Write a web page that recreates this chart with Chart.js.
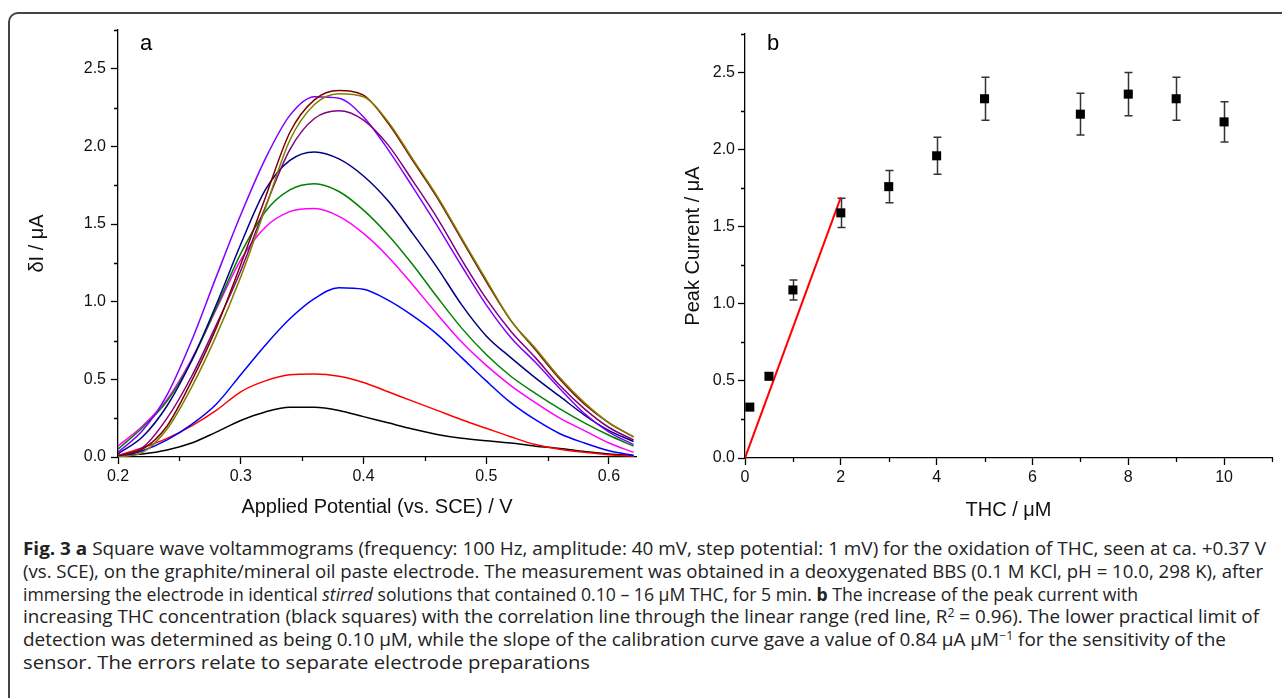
<!DOCTYPE html>
<html>
<head>
<meta charset="utf-8">
<script src="https://cdn.jsdelivr.net/npm/chart.js@4.4.1/dist/chart.umd.min.js"></script>
<style>
  body { margin: 0; width: 1282px; height: 698px; overflow: hidden; background: #fff; position: relative; }
  #frame { position: absolute; left: 8px; top: 12px; width: 1400px; height: 800px; border: 2px solid #444; border-radius: 10px; }
  canvas { position: absolute; top: 0; }
  .panel { position: absolute; top: 30px; font: 22px "Liberation Sans", Arial, sans-serif; line-height: 26px; color: #000; }
  .cap { position: absolute; left: 23px; height: 23px; line-height: 23px; white-space: nowrap; font: 18px "Liberation Sans Narrow", "Open Sans", sans-serif; color: #222; }
  .cap span { display: inline-block; transform-origin: 0 50%; }
  .cap sup { font-size: 0.65em; line-height: 0; vertical-align: 0.5em; }
</style>
</head>
<body>
<div id="frame"></div>
<canvas id="chartA" width="640" height="530" style="left:0"></canvas>
<canvas id="chartB" width="642" height="530" style="left:640px"></canvas>
<div class="panel" style="left:140px">a</div>
<div class="panel" style="left:767px">b</div>

<div class="cap" style="top:536px"><span><b>Fig. 3 a</b> Square wave voltammograms (frequency: 100 Hz, amplitude: 40 mV, step potential: 1 mV) for the oxidation of THC, seen at ca. +0.37 V</span></div>
<div class="cap" style="top:559px"><span>(vs. SCE), on the graphite/mineral oil paste electrode. The measurement was obtained in a deoxygenated BBS (0.1 M KCl, pH = 10.0, 298 K), after</span></div>
<div class="cap" style="top:582px"><span>immersing the electrode in identical <i>stirred</i> solutions that contained 0.10 – 16 μM THC, for 5 min. <b>b</b> The increase of the peak current with</span></div>
<div class="cap" style="top:604px"><span>increasing THC concentration (black squares) with the correlation line through the linear range (red line, R<sup>2</sup> = 0.96). The lower practical limit of</span></div>
<div class="cap" style="top:627px"><span>detection was determined as being 0.10 μM, while the slope of the calibration curve gave a value of 0.84 μA μM<sup>−1</sup> for the sensitivity of the</span></div>
<div class="cap" style="top:650px"><span>sensor. The errors relate to separate electrode preparations</span></div>

<script>
// panel a: square wave voltammograms
const potential = [0.20, 0.22, 0.24, 0.26, 0.28, 0.30, 0.32, 0.34, 0.36, 0.38, 0.40,
                   0.42, 0.44, 0.46, 0.48, 0.50, 0.52, 0.54, 0.56, 0.58, 0.60, 0.62];

const curveBlack   = [0.01, 0.02, 0.045, 0.09, 0.16, 0.235, 0.29, 0.32, 0.32, 0.30, 0.26, 0.22, 0.18, 0.145, 0.12, 0.105, 0.09, 0.07, 0.055, 0.035, 0.02, 0.01];
const curveRed     = [0.01, 0.06, 0.12, 0.20, 0.30, 0.42, 0.49, 0.53, 0.535, 0.52, 0.48, 0.42, 0.36, 0.30, 0.24, 0.185, 0.13, 0.08, 0.05, 0.03, 0.015, 0.005];
const curveBlue    = [0.00, 0.04, 0.11, 0.21, 0.34, 0.53, 0.72, 0.89, 1.02, 1.09, 1.08, 1.01, 0.91, 0.79, 0.64, 0.49, 0.35, 0.24, 0.15, 0.09, 0.04, 0.01];
const curveMagenta = [0.07, 0.20, 0.37, 0.63, 0.95, 1.27, 1.48, 1.58, 1.60, 1.55, 1.44, 1.29, 1.11, 0.92, 0.74, 0.59, 0.46, 0.35, 0.25, 0.17, 0.09, 0.03];
const curveGreen   = [0.05, 0.19, 0.36, 0.62, 0.96, 1.31, 1.58, 1.72, 1.76, 1.71, 1.59, 1.43, 1.24, 1.03, 0.83, 0.66, 0.52, 0.41, 0.31, 0.22, 0.14, 0.07];
const curveNavy    = [0.02, 0.13, 0.33, 0.62, 0.98, 1.37, 1.72, 1.91, 1.965, 1.92, 1.81, 1.65, 1.44, 1.22, 0.98, 0.78, 0.64, 0.51, 0.39, 0.27, 0.17, 0.10];
const curveViolet  = [0.03, 0.17, 0.40, 0.75, 1.16, 1.56, 1.92, 2.20, 2.32, 2.31, 2.19, 1.98, 1.74, 1.49, 1.23, 0.98, 0.77, 0.61, 0.44, 0.28, 0.16, 0.08];
const curvePurple  = [0.01, 0.06, 0.25, 0.52, 0.85, 1.20, 1.61, 1.98, 2.18, 2.23, 2.17, 2.01, 1.78, 1.54, 1.27, 1.02, 0.81, 0.64, 0.46, 0.31, 0.19, 0.11];
const curveMaroon  = [0.005, 0.05, 0.20, 0.49, 0.83, 1.24, 1.67, 2.09, 2.30, 2.36, 2.33, 2.15, 1.91, 1.67, 1.40, 1.13, 0.88, 0.69, 0.50, 0.34, 0.22, 0.13];
const curveOlive   = [0.00, 0.03, 0.18, 0.45, 0.78, 1.16, 1.60, 2.04, 2.27, 2.34, 2.32, 2.16, 1.92, 1.68, 1.41, 1.14, 0.88, 0.70, 0.51, 0.35, 0.22, 0.13];

const curveList   = [curveBlack, curveRed, curveBlue, curveMagenta, curveGreen, curveNavy, curveViolet, curvePurple, curveMaroon, curveOlive];
const curveColors = ["#000000", "#ff0000", "#0000ff", "#ff00ff", "#008000", "#000080", "#8000ff", "#800080", "#800000", "#808000"];

// panel b: calibration
const thcConc     = [0.1, 0.5, 1, 2, 3, 4, 5, 7, 8, 9, 10];
const peakCurrent = [0.33, 0.53, 1.09, 1.59, 1.76, 1.96, 2.33, 2.23, 2.36, 2.33, 2.18];
const peakErr     = [0, 0, 0.065, 0.095, 0.105, 0.12, 0.14, 0.135, 0.14, 0.14, 0.13];
const fitX = [0, 2];
const fitY = [0, 1.69];

Chart.defaults.font.family = "'Liberation Sans', Arial, sans-serif";
Chart.defaults.font.size = 16;
Chart.defaults.color = "#111";

// only major ticks are drawn by the scale, the short minor ones here
const minorTicks = {
  id: "minorTicks",
  afterDraw(chart) {
    const ctx = chart.ctx;
    const area = chart.chartArea;
    const sx = chart.scales.x, sy = chart.scales.y;
    ctx.save();
    ctx.strokeStyle = "#000";
    ctx.lineWidth = 1.3;
    ctx.beginPath();
    sx.ticks.forEach(t => {
      if (t.label !== "") return;
      const px = Math.round(sx.getPixelForValue(t.value)) + 0.5;
      ctx.moveTo(px, area.bottom);
      ctx.lineTo(px, area.bottom + 4);
    });
    sy.ticks.forEach(t => {
      if (t.label !== "") return;
      const py = Math.round(sy.getPixelForValue(t.value)) + 0.5;
      ctx.moveTo(area.left, py);
      ctx.lineTo(area.left - 4, py);
    });
    ctx.stroke();
    ctx.restore();
  }
};

const errorBars = {
  id: "errorBars",
  beforeDatasetsDraw(chart) {
    const ctx = chart.ctx;
    const sx = chart.scales.x, sy = chart.scales.y;
    ctx.save();
    ctx.strokeStyle = "#333";
    ctx.lineWidth = 1.5;
    ctx.beginPath();
    thcConc.forEach((c, i) => {
      if (!peakErr[i]) return;
      const px = Math.round(sx.getPixelForValue(c)) + 0.5;
      const top = sy.getPixelForValue(peakCurrent[i] + peakErr[i]);
      const bot = sy.getPixelForValue(peakCurrent[i] - peakErr[i]);
      ctx.moveTo(px, top); ctx.lineTo(px, bot);
      ctx.moveTo(px - 4, top); ctx.lineTo(px + 4, top);
      ctx.moveTo(px - 4, bot); ctx.lineTo(px + 4, bot);
    });
    ctx.stroke();
    ctx.restore();
  }
};

function axisGrid() {
  return {
    drawOnChartArea: false,
    tickLength: 7,
    tickWidth: 1.3,
    tickColor: ctx => (ctx.tick && ctx.tick.label === "") ? "rgba(0,0,0,0)" : "#000"
  };
}

const border = { display: true, color: "#000", width: 1.3 };
const titleFont = { size: 20 };

new Chart(document.getElementById("chartA"), {
  type: "line",
  data: {
    datasets: curveList.map((vals, i) => ({
      data: potential.map((x, k) => ({ x: x, y: vals[k] })),
      borderColor: curveColors[i],
      borderWidth: 1.5,
      pointRadius: 0,
      fill: false,
      cubicInterpolationMode: "monotone",
      order: curveList.length - i
    }))
  },
  options: {
    responsive: false,
    animation: false,
    devicePixelRatio: 1,
    layout: { padding: { top: 30, right: 4, left: 0, bottom: 0 } },
    plugins: { legend: { display: false }, tooltip: { enabled: false } },
    scales: {
      x: {
        type: "linear", min: 0.2, max: 0.622,
        afterFit: s => { s.height = 73; },
        border: border,
        grid: axisGrid(),
        ticks: {
          stepSize: 0.05, includeBounds: false, autoSkip: false, maxRotation: 0, padding: 3,
          callback: v => Math.round(v * 100) % 10 === 0 ? v.toFixed(1) : ""
        },
        title: { display: true, text: "Applied Potential (vs. SCE) / V", font: titleFont, color: "#111", padding: { top: 0, bottom: 11 } }
      },
      y: {
        type: "linear", min: 0, max: 2.75,
        afterFit: s => { s.width = 118; },
        border: border,
        grid: axisGrid(),
        ticks: {
          stepSize: 0.25, includeBounds: false, autoSkip: false, padding: 5,
          callback: v => Math.round(v * 100) % 50 === 0 ? v.toFixed(1) : ""
        },
        title: { display: true, text: "δI / μA", font: titleFont, color: "#111", padding: { top: 25, bottom: 0 } }
      }
    }
  },
  plugins: [minorTicks]
});

new Chart(document.getElementById("chartB"), {
  type: "scatter",
  data: {
    datasets: [
      {
        data: thcConc.map((c, i) => ({ x: c, y: peakCurrent[i] })),
        pointStyle: "rect",
        pointRadius: 6.4,
        backgroundColor: "#000",
        borderColor: "#000",
        borderWidth: 0
      },
      {
        data: fitX.map((c, i) => ({ x: c, y: fitY[i] })),
        showLine: true,
        borderColor: "#ff0000",
        borderWidth: 2,
        pointRadius: 0
      }
    ]
  },
  options: {
    responsive: false,
    animation: false,
    devicePixelRatio: 1,
    layout: { padding: { top: 34, right: 10, left: 0, bottom: 0 } },
    plugins: { legend: { display: false }, tooltip: { enabled: false } },
    scales: {
      x: {
        type: "linear", min: 0, max: 11,
        afterFit: s => { s.height = 72; },
        border: border,
        grid: axisGrid(),
        ticks: {
          stepSize: 1, includeBounds: false, autoSkip: false, maxRotation: 0, padding: 3,
          callback: v => v % 2 === 0 ? String(v) : ""
        },
        title: { display: true, text: "THC / μM", font: titleFont, color: "#111", padding: { top: 0, bottom: 8 } }
      },
      y: {
        type: "linear", min: 0, max: 2.75,
        afterFit: s => { s.width = 105; },
        border: border,
        grid: axisGrid(),
        ticks: {
          stepSize: 0.25, includeBounds: false, autoSkip: false, padding: 3,
          callback: v => Math.round(v * 100) % 50 === 0 ? v.toFixed(1) : ""
        },
        title: { display: true, text: "Peak Current / μA", font: titleFont, color: "#111", padding: { top: 41, bottom: 0 } }
      }
    }
  },
  plugins: [minorTicks, errorBars]
});

// squeeze each caption line to the width it has in the figure
const captionWidths = [1243, 1240, 1115, 1236, 1203, 567];
function fitCaption() {
  document.querySelectorAll(".cap span").forEach((el, i) => {
    el.style.transform = "none";
    const w = el.getBoundingClientRect().width;
    el.style.transform = "scaleX(" + (captionWidths[i] / w) + ")";
  });
}
fitCaption();
if (document.fonts) document.fonts.ready.then(fitCaption);
</script>
</body>
</html>
